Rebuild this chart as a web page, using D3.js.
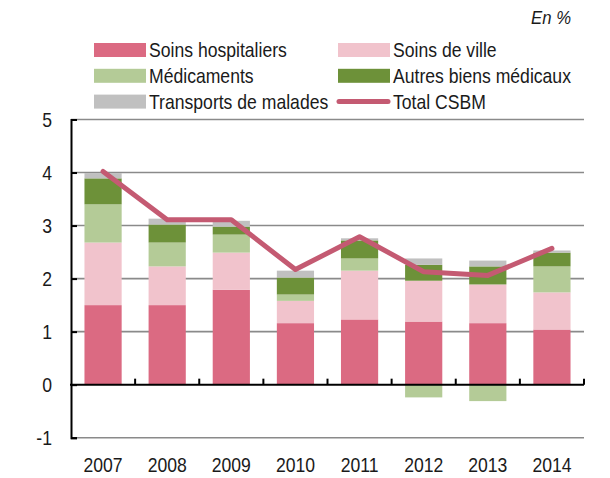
<!DOCTYPE html>
<html>
<head>
<meta charset="utf-8">
<script src="https://cdn.jsdelivr.net/npm/d3@7"></script>
<style>
  body { margin: 0; background: #fff; }
  text { font-family: "Liberation Sans", Arial, sans-serif; fill: #1a1a1a; }
</style>
</head>
<body>
<div id="chart"></div>
<script>
// years and series (growth contributions, in %)
var years = ["2007", "2008", "2009", "2010", "2011", "2012", "2013", "2014"];
var series = ["Soins hospitaliers", "Soins de ville", "Médicaments", "Autres biens médicaux", "Transports de malades"];
var hospitaliers = [1.50, 1.50, 1.79, 1.16, 1.23, 1.19, 1.16, 1.04];
var ville        = [1.18, 0.73, 0.70, 0.42, 0.92, 0.77, 0.73, 0.70];
var medicaments  = [0.72, 0.45, 0.34, 0.12, 0.23, -0.24, -0.31, 0.49];
var autres       = [0.49, 0.34, 0.15, 0.32, 0.34, 0.30, 0.34, 0.26];
var transports   = [0.10, 0.11, 0.11, 0.13, 0.04, 0.12, 0.11, 0.04];
var totalCSBM    = [4.02, 3.11, 3.11, 2.17, 2.79, 2.13, 2.06, 2.57];
var yTicks = [-1, 0, 1, 2, 3, 4, 5];

var colors = ["#db6a82", "#f1c3cc", "#b4cb97", "#6d9139", "#c0c0c0"];
var lineColor = "#c45a72";

var width = 610, height = 478;
var margin = {top: 119.5, right: 26, bottom: 40.3, left: 71};
var squeeze = 0.88; // the original uses a narrow font

var svg = d3.select("#chart").append("svg")
    .attr("width", width)
    .attr("height", height);

// narrow-looking text: Liberation Sans squeezed horizontally
function addText(parent, x, y, str, anchor, size, italic) {
  return parent.append("text")
      .attr("transform", "translate(" + x + "," + y + ") scale(" + squeeze + ",1)")
      .attr("text-anchor", anchor)
      .style("font-size", size + "px")
      .style("font-style", italic ? "italic" : "normal")
      .text(str);
}

// build rows for the stack
var rows = years.map(function (yr, i) {
  var r = {year: yr};
  r[series[0]] = hospitaliers[i];
  r[series[1]] = ville[i];
  r[series[2]] = medicaments[i];
  r[series[3]] = autres[i];
  r[series[4]] = transports[i];
  return r;
});

var stack = d3.stack()
    .keys(series)
    .offset(d3.stackOffsetDiverging);
var layers = stack(rows);

var x = d3.scaleBand()
    .domain(years)
    .range([margin.left, width - margin.right])
    .paddingInner(0.42)
    .paddingOuter(0.21);

var y = d3.scaleLinear()
    .domain([-1, 5])
    .range([height - margin.bottom, margin.top]);

// gridlines
svg.append("g").selectAll("line")
    .data(yTicks.filter(function (d) { return d != 0; }))
  .enter().append("line")
    .attr("x1", margin.left)
    .attr("x2", width - margin.right)
    .attr("y1", function (d) { return y(d); })
    .attr("y2", function (d) { return y(d); })
    .style("stroke", "#8a8a8a")
    .style("stroke-width", 1.6);

// bars
svg.append("g").selectAll("g")
    .data(layers)
  .enter().append("g")
    .style("fill", function (d, i) { return colors[i]; })
  .selectAll("rect")
    .data(function (d) { return d; })
  .enter().append("rect")
    .attr("x", function (d) { return x(d.data.year); })
    .attr("width", x.bandwidth())
    .attr("y", function (d) { return y(Math.max(d[0], d[1])); })
    .attr("height", function (d) { return Math.abs(y(d[0]) - y(d[1])); });

// y axis (ticks inward, labels drawn separately)
var yAxis = d3.axisLeft(y)
    .tickValues(yTicks)
    .tickSize(-6)
    .tickFormat("");
var gy = svg.append("g")
    .attr("transform", "translate(" + margin.left + ",0)")
    .call(yAxis);
gy.select(".domain").style("stroke", "#000").style("stroke-width", 2);
gy.selectAll(".tick line").style("stroke", "#000").style("stroke-width", 2);

var gyl = svg.append("g");
yTicks.forEach(function (t) {
  addText(gyl, 52, y(t) + 7, t < 0 ? "-" + Math.abs(t) : String(t), "end", 20, false);
});

// x axis on zero line with ticks between categories
var bounds = d3.range(1, years.length + 1).map(function (k) {
  return margin.left + k * (width - margin.left - margin.right) / years.length;
});
var gx = svg.append("g");
gx.append("line")
    .attr("x1", margin.left - 1)
    .attr("x2", width - margin.right)
    .attr("y1", y(0))
    .attr("y2", y(0))
    .style("stroke", "#000")
    .style("stroke-width", 2);
gx.selectAll(".tk")
    .data(bounds)
  .enter().append("line")
    .attr("class", "tk")
    .attr("x1", function (d) { return d; })
    .attr("x2", function (d) { return d; })
    .attr("y1", y(0))
    .attr("y2", y(0) - 6)
    .style("stroke", "#000")
    .style("stroke-width", 2);

// category labels at bottom
var gxl = svg.append("g");
years.forEach(function (yr) {
  addText(gxl, x(yr) + x.bandwidth() / 2, 472, yr, "middle", 20, false);
});

// total line
var line = d3.line()
    .x(function (d, i) { return x(years[i]) + x.bandwidth() / 2; })
    .y(function (d) { return y(d); });
svg.append("path")
    .datum(totalCSBM)
    .attr("d", line)
    .style("fill", "none")
    .style("stroke", lineColor)
    .style("stroke-width", 5)
    .style("stroke-linejoin", "round")
    .style("stroke-linecap", "round");

// unit
addText(svg, 571, 24, "En %", "end", 19, true);

// legend
var legendItems = [
  {name: series[0], color: colors[0], type: "rect"},
  {name: series[1], color: colors[1], type: "rect"},
  {name: series[2], color: colors[2], type: "rect"},
  {name: series[3], color: colors[3], type: "rect"},
  {name: series[4], color: colors[4], type: "rect"},
  {name: "Total CSBM", color: lineColor, type: "line"}
];
var legend = svg.append("g").selectAll("g")
    .data(legendItems)
  .enter().append("g")
    .attr("transform", function (d, i) {
      var col = i % 2, row = Math.floor(i / 2);
      return "translate(" + (col == 0 ? 94 : 338) + "," + (50 + row * 25.8) + ")";
    });
legend.filter(function (d) { return d.type == "rect"; })
  .append("rect")
    .attr("x", 0)
    .attr("y", -7)
    .attr("width", 52)
    .attr("height", 14)
    .style("fill", function (d) { return d.color; });
legend.filter(function (d) { return d.type == "line"; })
  .append("line")
    .attr("x1", 1)
    .attr("x2", 50)
    .attr("y1", 0)
    .attr("y2", 0)
    .style("stroke", function (d) { return d.color; })
    .style("stroke-width", 5)
    .style("stroke-linecap", "round");
legend.each(function (d) {
  addText(d3.select(this), 55, 7, d.name, "start", 20, false);
});
</script>
</body>
</html>
